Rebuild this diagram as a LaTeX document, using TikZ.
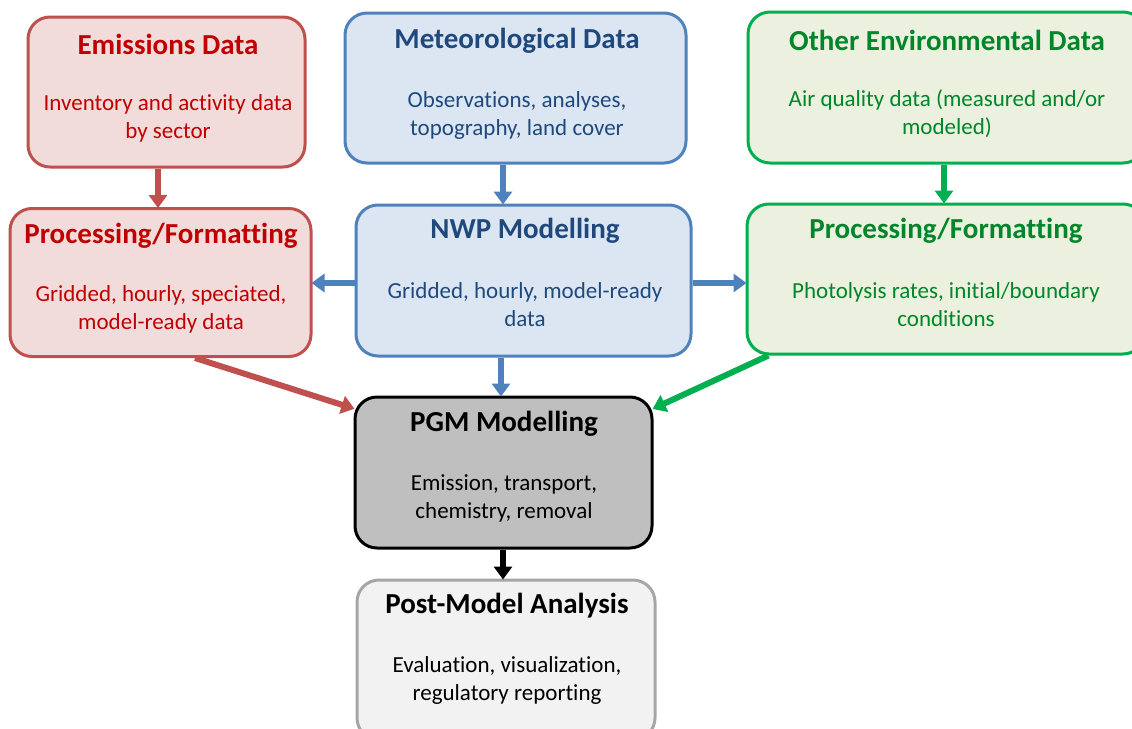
\documentclass[tikz,border=0pt]{standalone}
\usepackage{fontspec}
\setmainfont{Carlito}[Ligatures={NoCommon}]
\usetikzlibrary{arrows.meta,calc}
\definecolor{redB}{HTML}{C0504D}
\definecolor{redF}{HTML}{F2DCDB}
\definecolor{redT}{HTML}{C00000}
\definecolor{bluB}{HTML}{4F81BD}
\definecolor{bluF}{HTML}{DCE6F2}
\definecolor{bluT}{HTML}{1F497D}
\definecolor{grnB}{HTML}{00B050}
\definecolor{grnF}{HTML}{EBF1DE}
\definecolor{grnT}{HTML}{00862A}
\definecolor{gryF}{HTML}{BFBFBF}
\definecolor{posF}{HTML}{F2F2F2}
\definecolor{posB}{HTML}{A6A6A6}
\tikzset{
  box/.style={draw, rectangle, rounded corners=22pt, line width=3pt, inner sep=0pt},
  ttl/.style={font=\fontsize{29}{34}\selectfont\bfseries, align=center, inner sep=0pt},
  bdy/.style={font=\fontsize{23}{28}\selectfont, align=center, inner sep=0pt},
  arr/.style={line width=6pt, -{Triangle[width=18pt,length=13pt]}, shorten >=-1pt},
}
\begin{document}
\begin{tikzpicture}[x=1pt,y=-1pt]
\useasboundingbox (0,0) rectangle (1132,728);
\clip (0,0) rectangle (1132,728);
\fill[white] (0,0) rectangle (1132,728);
% boxes
\node[box, draw=redB, fill=redF, minimum width=277pt, minimum height=150pt] (em) at (166.5,92) {};
\node[box, draw=bluB, fill=bluF, minimum width=341pt, minimum height=150pt] (met) at (515.5,88) {};
\node[box, draw=grnB, fill=grnF, minimum width=397pt, minimum height=151pt] (oth) at (946.5,87.5) {};
\node[box, draw=redB, fill=redF, minimum width=301pt, minimum height=148pt] (rp) at (160.5,282.5) {};
\node[box, draw=bluB, fill=bluF, minimum width=335pt, minimum height=151pt] (nwp) at (523.5,280.5) {};
\node[box, draw=grnB, fill=grnF, minimum width=398pt, minimum height=150pt] (gp) at (946,279) {};
\node[box, draw=black, fill=gryF, minimum width=297pt, minimum height=151pt] (pgm) at (503.5,472.5) {};
\node[box, draw=posB, fill=posF, minimum width=298pt, minimum height=160pt] (post) at (506,660) {};
% texts
\node[ttl, text=redT] (emT) at (168,44) {Emissions Data};
\node[bdy, text=redT] (emB) at (168,118) {Inventory and activity data\\by sector};
\node[ttl, text=bluT] (metT) at (517,41) {Meteorological Data};
\node[bdy, text=bluT] (metB) at (517,115) {Observations, analyses,\\topography, land cover};
\node[ttl, text=grnT] (othT) at (947,40) {Other Environmental Data};
\node[bdy, text=grnT] (othB) at (947,113.5) {Air quality data (measured and/or\\modeled)};
\node[ttl, text=redT] (rpT) at (161,236) {Processing/Formatting};
\node[bdy, text=redT] (rpB) at (161,309) {Gridded, hourly, speciated,\\model-ready data};
\node[ttl, text=bluT] (nwpT) at (525,231) {NWP Modelling};
\node[bdy, text=bluT] (nwpB) at (525,305) {Gridded, hourly, model-ready\\data};
\node[ttl, text=grnT] (gpT) at (946,231) {Processing/Formatting};
\node[bdy, text=grnT] (gpB) at (946,305) {Photolysis rates, initial/boundary\\conditions};
\node[ttl, text=black] (pgmT) at (504,424) {PGM Modelling};
\node[bdy, text=black] (pgmB) at (504,498) {Emission, transport,\\chemistry, removal};
\node[ttl, text=black] (postT) at (507,606) {Post-Model Analysis};
\node[bdy, text=black] (postB) at (507,680) {Evaluation, visualization,\\regulatory reporting};
% connectors
\draw[arr, redB] ([xshift=-8.5pt]em.south) -- ([xshift=-8.5pt]em.south |- rp.north);
\draw[arr, bluB] ([xshift=-12.5pt]met.south) -- ([xshift=-12.5pt]met.south |- nwp.north);
\draw[arr, grnB] ([xshift=-2.5pt]oth.south) -- ([xshift=-2.5pt]oth.south |- gp.north);
\draw[arr, bluB] ([yshift=-2.5pt]nwp.west) -- ([yshift=-2.5pt]nwp.west -| rp.east);
\draw[arr, bluB] ([yshift=-2.5pt]nwp.east) -- ([yshift=-2.5pt]nwp.east -| gp.west);
\draw[arr, bluB] ([xshift=-22.5pt]nwp.south) -- ([xshift=-22.5pt]nwp.south |- pgm.north);
\draw[arr, redB] ([xshift=34.5pt]rp.south) -- ([yshift=-13pt]pgm.north west);
\draw[arr, grnB] ([xshift=23pt]gp.south west) -- ([yshift=-13pt]pgm.north east);
\draw[arr, black] ([xshift=-0.5pt]pgm.south) -- ([xshift=-0.5pt]pgm.south |- post.north);
\end{tikzpicture}
\end{document}
